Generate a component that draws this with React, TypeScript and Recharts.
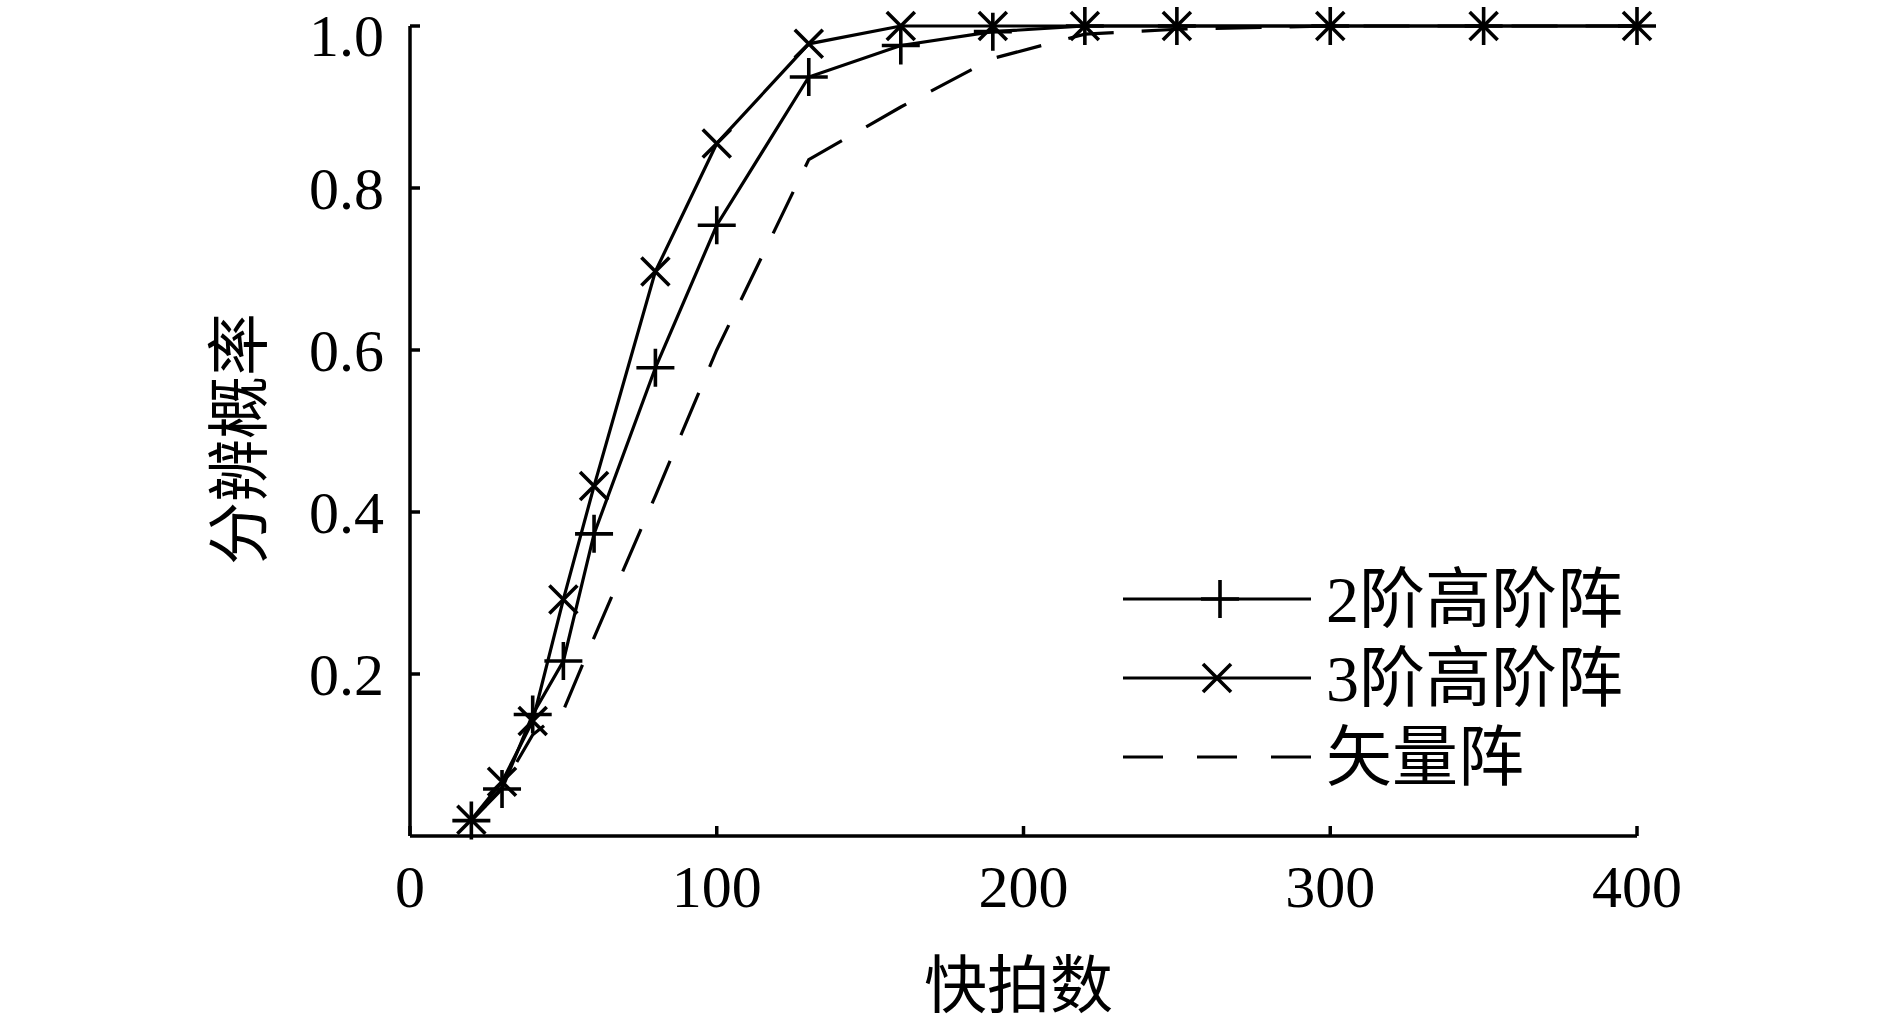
import React from 'react';
import { LineChart, Line, XAxis, YAxis, Legend, Label } from 'recharts';

const snapshots = [20, 30, 40, 50, 60, 80, 100, 130, 160, 190, 220, 250, 300, 350, 400];
const order2 = [0.019, 0.058, 0.15, 0.216, 0.373, 0.578, 0.754, 0.937, 0.976, 0.993, 1, 1, 1, 1, 1];
const order3 = [0.02, 0.067, 0.142, 0.292, 0.432, 0.697, 0.855, 0.978, 1, 1, 1, 1, 1, 1, 1];
const vectorArr = [0.02, 0.06, 0.125, 0.155, 0.245, 0.42, 0.6, 0.835, 0.9, 0.96, 0.99, 0.996, 1, 1, 1];
const xTicks = [0, 100, 200, 300, 400];
const yTicks = [0.2, 0.4, 0.6, 0.8, 1.0];
const seriesNames = ['2阶高阶阵', '3阶高阶阵', '矢量阵'];
const xLabel = '快拍数';
const yLabel = '分辨概率';

const data = snapshots.map((s, i) => ({
  x: s,
  o2: order2[i],
  o3: order3[i],
  v: vectorArr[i],
}));

const FONT = '"Liberation Serif", "Times New Roman", "Noto Sans CJK SC", serif';
const SW = 3.2;
const MW = 3.6;

const plusPath = (cx: number, cy: number, r: number) =>
  `M${cx - r},${cy}H${cx + r}M${cx},${cy - r}V${cy + r}`;
const crossPath = (cx: number, cy: number, r: number) =>
  `M${cx - r},${cy - r}L${cx + r},${cy + r}M${cx - r},${cy + r}L${cx + r},${cy - r}`;

const PlusDot = (props: any) => {
  const { cx, cy, index } = props;
  if (cx == null || cy == null) return <g key={`p${index}`} />;
  return <path key={`p${index}`} d={plusPath(cx, cy, 19)} stroke="#000" strokeWidth={MW} fill="none" />;
};
const CrossDot = (props: any) => {
  const { cx, cy, index } = props;
  if (cx == null || cy == null) return <g key={`c${index}`} />;
  return <path key={`c${index}`} d={crossPath(cx, cy, 14)} stroke="#000" strokeWidth={MW} fill="none" />;
};

const renderLegend = (props: any) => {
  const payload = props.payload || [];
  const rowH = 79;
  return (
    <svg width={580} height={250} style={{ display: 'block' }}>
      {payload.map((p: any, i: number) => {
        const y = 44 + i * rowH;
        const dashed = p.dataKey === 'v';
        return (
          <g key={i}>
            <line x1={8} x2={196} y1={y} y2={y} stroke="#000" strokeWidth={SW}
              strokeDasharray={dashed ? '40 34' : undefined} />
            {p.dataKey === 'o2' && <path d={plusPath(105, y, 19)} stroke="#000" strokeWidth={MW} fill="none" />}
            {p.dataKey === 'o3' && <path d={crossPath(102, y, 14)} stroke="#000" strokeWidth={MW} fill="none" />}
            <text x={211} y={y} dominantBaseline="central" fontSize={66} fontFamily={FONT} fill="#000">
              {p.value}
            </text>
          </g>
        );
      })}
    </svg>
  );
};

const YLabelContent = (props: any) => {
  const vb = props.viewBox || { x: 0, y: 0, width: 0, height: 0 };
  const x = vb.x + 240;
  const y = vb.y + vb.height / 2 + 8;
  return (
    <text x={x} y={y} transform={`rotate(-90 ${x} ${y})`} textAnchor="middle" dominantBaseline="central"
      fontSize={63} fontFamily={FONT} fill="#000">
      {yLabel}
    </text>
  );
};

const XLabelContent = (props: any) => {
  const vb = props.viewBox || { x: 0, y: 0, width: 0, height: 0 };
  const x = vb.x + vb.width / 2 - 5;
  const y = vb.y + 150;
  return (
    <text x={x} y={y} textAnchor="middle" dominantBaseline="central" fontSize={63} fontFamily={FONT} fill="#000">
      {xLabel}
    </text>
  );
};

export default function App() {
  return (
    <div style={{ position: 'absolute', left: 0, top: 0, background: '#fff' }}>
      <LineChart width={1890} height={1027} data={data} margin={{ top: 26, right: 253, bottom: 0, left: 0 }}>
        <XAxis
          dataKey="x"
          type="number"
          domain={[0, 400]}
          ticks={xTicks}
          height={191}
          tickSize={-10}
          tickMargin={38}
          axisLine={{ stroke: '#000', strokeWidth: 3.5 }}
          tickLine={{ stroke: '#000', strokeWidth: 3.5 }}
          tick={{ fontSize: 60, fill: '#000', fontFamily: FONT }}
        >
          <Label content={XLabelContent} />
        </XAxis>
        <YAxis
          type="number"
          domain={[0, 1]}
          ticks={yTicks}
          width={410}
          tickSize={-10}
          tickMargin={36}
          tickFormatter={(v: number) => v.toFixed(1)}
          axisLine={{ stroke: '#000', strokeWidth: 3.5 }}
          tickLine={{ stroke: '#000', strokeWidth: 3.5 }}
          tick={{ fontSize: 60, fill: '#000', fontFamily: FONT }}
        >
          <Label content={YLabelContent} />
        </YAxis>
        <Legend
          content={renderLegend}
          layout="horizontal"
          align="center"
          verticalAlign="middle"
          wrapperStyle={{ position: 'absolute', left: 1115, top: 555, width: 580, height: 250 }}
        />
        <Line dataKey="o2" name={seriesNames[0]} stroke="#000" strokeWidth={SW} dot={PlusDot}
          activeDot={false} isAnimationActive={false} />
        <Line dataKey="o3" name={seriesNames[1]} stroke="#000" strokeWidth={SW} dot={CrossDot}
          activeDot={false} isAnimationActive={false} />
        <Line dataKey="v" name={seriesNames[2]} stroke="#000" strokeWidth={SW} strokeDasharray="46 28"
          dot={false} activeDot={false} isAnimationActive={false} />
      </LineChart>
    </div>
  );
}
